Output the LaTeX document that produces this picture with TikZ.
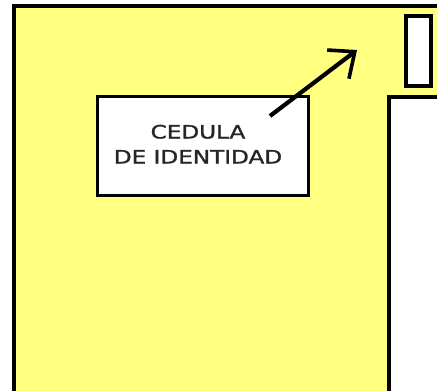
\documentclass[tikz,border=0pt]{standalone}
\usepackage{fontspec}
\setmainfont{DejaVu Sans}[FakeBold=1.2]
\usepackage{tikz}
\usetikzlibrary{arrows.meta}
\usepackage{xcolor}
\definecolor{paleyellow}{RGB}{255,255,128}

\begin{document}
\begin{tikzpicture}[x=1pt,y=-1pt]
  \tikzstyle{wall} = [draw=black,line width=3.6pt]
  \tikzstyle{card} = [draw=black,line width=3.6pt,fill=white,minimum width=211pt,minimum height=99pt,inner sep=0pt]
  \tikzstyle{pointer} = [draw,line width=4.2pt,-{Straight Barb[length=21pt,width=36pt,line width=3.6pt]}]
  %%
  \useasboundingbox (0,0) rectangle (437,391);
  \clip (0,0) rectangle (437,391);
  %%
  \path [wall,fill=paleyellow] (14,6) rectangle (470,420);
  \path [wall,fill=white] (389,97) rectangle (470,420);
  \path [wall,fill=white] (406,16) rectangle (431,86);
  %%
  \node [card,text=black!85] (card) at (203,146) {\fontsize{18.5}{25}\selectfont
    \scalebox{1.25}[1]{\begin{tabular}{@{}c@{}}CEDULA\\DE IDENTIDAD\end{tabular}}\hspace*{10pt}};
  \coordinate (from) at (270,116);
  \coordinate (to) at (357,50);
  \path [pointer] (from) -- (to);
\end{tikzpicture}
\end{document}
